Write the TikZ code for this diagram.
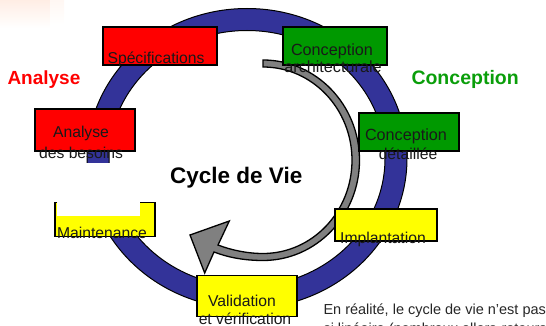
\documentclass[tikz,border=0pt]{standalone}
\usepackage{fontspec}
\setmainfont{Liberation Sans}
\definecolor{ringblue}{HTML}{333399}
\definecolor{boxred}{HTML}{FF0000}
\definecolor{boxgreen}{HTML}{009900}
\definecolor{boxyellow}{HTML}{FFFF00}
\definecolor{arrowgray}{HTML}{808080}
\definecolor{peach}{HTML}{FFEDE4}
\definecolor{titlegreen}{HTML}{0A9E0A}
\tikzset{
  stagebox/.style={draw=black,line width=1.4pt,inner sep=0pt,outer sep=0pt},
  boxlabel/.style={anchor=base,inner sep=0pt,outer sep=0pt,text=black!90,font=\fontsize{15.7}{18}\selectfont},
  boxlabelwide/.style={boxlabel,font=\fontsize{16.2}{18}\selectfont},
  phase/.style={anchor=base west,inner sep=0pt,outer sep=0pt,font=\fontsize{19}{22}\selectfont\bfseries},
  notetext/.style={anchor=base west,inner sep=0pt,outer sep=0pt,text=black!85,font=\fontsize{14.5}{17}\selectfont},
}
\begin{document}
\begin{tikzpicture}[x=1pt,y=-1pt]
\useasboundingbox (0,0) rectangle (546,326);
\clip (0,0) rectangle (546,326);
% faint corner shading
\shade[top color=peach,bottom color=white] (0,0) rectangle (50,28);
\shade[top color=peach!45,bottom color=white] (50,0) rectangle (64,24);
% ring
\fill[ringblue,draw=black,line width=1pt,even odd rule]
  (247,158.5) ellipse [x radius=160pt,y radius=150pt]
  (247,158.5) ellipse [x radius=138pt,y radius=128pt];
% grey return arrow
\draw[fill=arrowgray,draw=black,line width=1.3pt,line join=miter]
  (263,60) arc[start angle=90,end angle=-90,x radius=96.5pt,y radius=100.25pt]
  .. controls (243,260.5) and (227,257) .. (214,252)
  -- (204.7,273) -- (190,235) -- (229.3,221) -- (218,245)
  .. controls (231,250) and (247,253.5) .. (263,253.5)
  arc[start angle=-90,end angle=90,x radius=89pt,y radius=93.25pt]
  -- cycle;
% boxes
\node[stagebox,fill=boxyellow,minimum width=100pt,minimum height=34.5pt] (maint) at (105,219.5) {};
\fill[white] (57,162.7) rectangle (140,215.7);
\node[stagebox,fill=boxred,minimum width=114pt,minimum height=38pt] (spec) at (160,46) {};
\node[stagebox,fill=boxred,minimum width=100pt,minimum height=42pt] (besoins) at (85,130) {};
\node[stagebox,fill=boxgreen,minimum width=104pt,minimum height=38pt] (archi) at (335,46) {};
\node[stagebox,fill=boxgreen,minimum width=100pt,minimum height=38pt] (detail) at (409,132) {};
\node[stagebox,fill=boxyellow,minimum width=102pt,minimum height=32pt] (impl) at (386,225) {};
\node[stagebox,fill=boxyellow,minimum width=100pt,minimum height=41.5pt] (valid) at (247,296) {};
% box texts
\node[boxlabel] (tspec) at (156,64) {Spécifications};
\node[boxlabel] (tana) at (81,138) {Analyse};
\node[boxlabel] (tdes) at (81,158) {des besoins};
\node[boxlabelwide] (tcon) at (332,56) {Conception};
\node[boxlabelwide] (tarc) at (333,73) {architecturale};
\node[boxlabelwide] (tcdt) at (406,140.5) {Conception};
\node[boxlabel] (tdet) at (408,160) {détaillée};
\node[boxlabel] (tmai) at (102,238) {Maintenance};
\node[boxlabel] (timp) at (383,243) {Implantation};
\node[boxlabel] (tval) at (242,306.5) {Validation};
\node[boxlabel] (tver) at (245,324) {et vérification};
% titles
\node[phase,text=boxred] (tanalyse) at (7.5,85) {Analyse};
\node[phase,text=titlegreen,font=\fontsize{19.5}{22}\selectfont\bfseries] (tconception) at (411.5,85) {Conception};
\node[anchor=base west,inner sep=0pt,font=\fontsize{22.5}{26}\selectfont\bfseries] (tcycle) at (170,183) {Cycle de Vie};
\node[notetext] (tnote1) at (323.5,314) {En réalité, le cycle de vie n’est pas};
\node[notetext] (tnote2) at (323.5,333.5) {si linéaire (nombreux allers-retours)};
\end{tikzpicture}
\end{document}
